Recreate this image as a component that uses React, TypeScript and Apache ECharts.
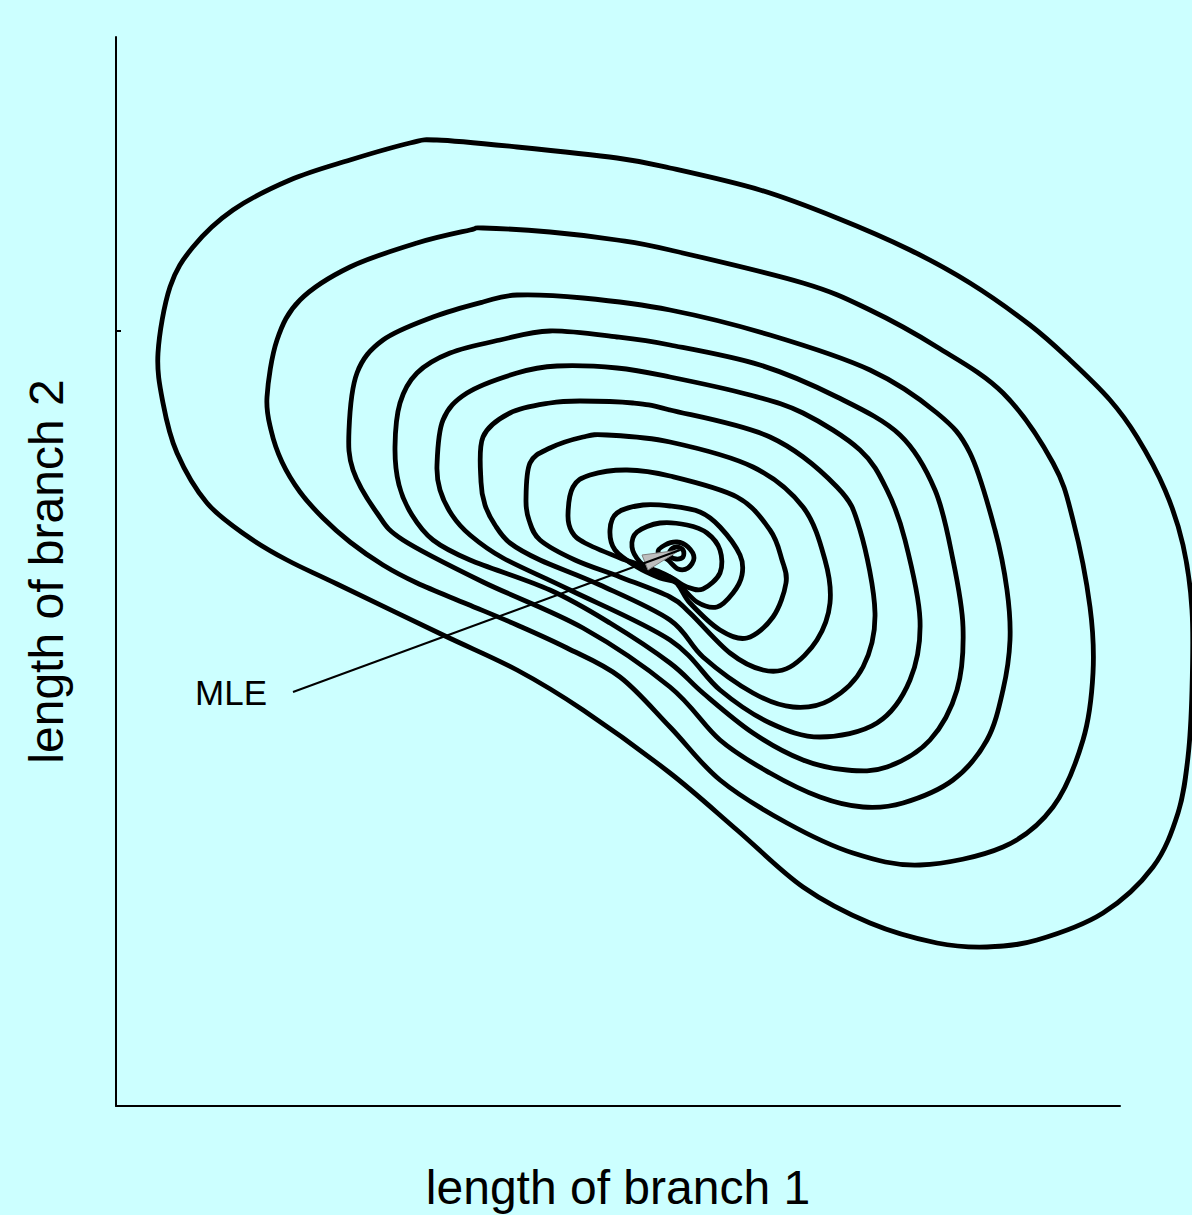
import React, { useEffect, useRef } from "react";
import * as echarts from "echarts";

// Contour levels of the likelihood surface (x = length of branch 1, y = length of branch 2)
const contour1 = [[4.2,75.3],[5.4,81.9],[7.7,85.9],[11.7,89.6],[17.4,92.6],[23.4,94.6],[29.4,96.3],[32.1,96.6],[40.1,95.9],[50.1,94.8],[55.4,93.8],[64.4,91.6],[72.1,88.8],[79.4,85.6],[85.4,82.3],[91.4,78.1],[95.4,74.6],[99.4,70.6],[102.1,66.9],[104.9,61.6],[106.7,56.1],[107.6,49.6],[107.6,41.6],[107.2,34.9],[106.2,29.3],[103.7,23.9],[98.7,19.3],[92.1,16.6],[87.1,15.9],[82.1,16.3],[75.4,18.3],[68.7,21.9],[62.1,27.6],[55.4,33.3],[46.7,39.6],[40.1,43.6],[32.7,47.1],[22.1,52.2],[17.1,54.6],[13.1,57.0],[9.1,60.3],[6.1,65.3],[4.7,70.3]];
const contour2 = [[15.1,70.9],[16.1,76.6],[18.4,80.6],[23.4,83.9],[30.1,86.3],[35.4,87.6],[36.7,87.8],[43.4,87.4],[50.1,86.6],[55.4,85.6],[68.7,82.3],[75.4,79.6],[82.1,75.9],[88.7,71.3],[93.7,64.3],[95.7,58.6],[97.4,49.9],[97.7,43.3],[96.7,36.6],[93.7,29.9],[88.7,25.9],[80.4,24.1],[73.7,25.3],[67.1,28.3],[60.4,32.6],[55.4,37.9],[50.4,42.9],[45.1,45.8],[40.1,48.1],[35.1,50.2],[30.1,52.3],[26.7,54.1],[23.4,56.4],[20.7,58.8],[18.4,61.4],[16.6,64.4],[15.5,67.6]];
const contour3 = [[23.3,67.6],[24.1,73.3],[26.7,76.6],[31.7,78.9],[36.7,80.4],[40.1,81.1],[46.7,80.8],[55.4,79.6],[65.4,77.1],[75.4,73.6],[82.1,69.3],[85.4,65.3],[87.9,57.6],[89.1,51.6],[89.4,46.6],[88.7,41.6],[87.1,36.6],[83.7,32.6],[78.7,30.3],[74.7,29.9],[70.4,30.9],[65.4,33.3],[60.4,36.6],[55.4,41.9],[46.7,47.8],[36.7,52.4],[28.7,56.6],[26.1,59.3],[23.7,63.6]];
const contour4 = [[27.9,65.9],[28.4,70.3],[30.1,73.3],[33.4,75.3],[38.4,76.6],[43.4,77.5],[50.1,76.9],[55.4,76.1],[64.4,74.1],[72.1,70.9],[78.4,67.1],[81.9,61.6],[83.7,54.6],[84.7,47.9],[84.1,41.6],[81.4,36.6],[77.1,33.9],[73.1,33.6],[68.7,34.6],[63.7,37.3],[58.7,41.3],[55.4,44.3],[49.4,48.3],[43.4,51.6],[35.4,54.6],[31.7,56.6],[29.6,59.1],[28.3,62.1]];
const contour5 = [[32.1,64.1],[32.7,68.6],[35.1,71.3],[40.1,73.3],[44.1,74.0],[50.1,73.8],[55.4,72.9],[63.4,71.1],[68.7,69.3],[74.4,65.6],[77.1,61.6],[78.9,56.6],[80.4,48.6],[79.4,42.6],[76.1,38.3],[70.4,36.9],[65.4,38.3],[60.4,41.6],[55.4,46.6],[45.4,51.6],[38.7,54.8],[35.4,57.1],[33.6,59.1],[32.4,61.6]];
const contour6 = [[36.5,62.4],[36.7,66.9],[39.4,69.3],[43.4,70.3],[46.4,70.5],[51.7,70.3],[55.4,69.6],[65.4,66.9],[72.1,61.9],[74.4,57.6],[75.9,49.3],[74.7,43.9],[71.4,40.6],[67.7,39.9],[63.7,41.3],[58.7,44.9],[55.4,48.6],[48.4,52.1],[42.4,54.6],[39.4,56.3],[37.9,58.1],[36.9,60.1]];
const contour7 = [[41.0,60.6],[41.4,64.3],[43.4,65.8],[46.7,66.9],[49.1,67.1],[55.4,66.4],[63.7,63.9],[68.7,59.9],[70.9,54.6],[71.4,50.3],[70.1,46.6],[67.4,43.9],[64.7,43.6],[61.4,45.3],[57.4,49.3],[55.4,50.9],[50.4,52.9],[45.9,54.6],[42.4,56.6],[41.3,58.6]];
const contour8 = [[45.2,59.1],[45.7,61.9],[47.4,63.1],[51.1,63.6],[55.4,63.0],[62.1,60.9],[65.4,57.6],[66.6,54.6],[67.0,52.3],[65.7,48.9],[63.1,46.8],[60.4,47.6],[57.4,50.3],[55.4,52.9],[50.4,54.8],[46.9,56.3],[45.6,57.4]];
const contour9 = [[49.4,57.6],[50.1,59.3],[52.7,60.1],[55.4,60.0],[58.4,59.4],[60.4,57.9],[62.4,55.1],[62.6,53.1],[61.7,51.3],[60.1,49.9],[58.1,50.4],[56.1,52.3],[54.4,52.8],[52.1,53.9],[49.9,55.6]];
const contour10 = [[51.6,55.9],[52.1,57.4],[54.4,58.3],[57.1,58.1],[59.1,57.3],[60.4,55.6],[60.4,53.3],[58.7,51.7],[57.1,51.9],[55.4,52.9],[53.9,53.4],[52.4,54.4]];
const contour11 = [[54.2,55.4],[54.9,56.1],[56.1,56.4],[57.2,55.9],[57.8,54.8],[57.2,53.8],[56.2,53.7],[55.2,54.6]];
const contour12 = [[55.4,55.5],[56.0,55.9],[56.7,55.6],[56.7,54.9],[56.0,54.7],[55.4,55.0]];

const contours = [contour1, contour2, contour3, contour4, contour5, contour6, contour7, contour8, contour9, contour10, contour11, contour12];

// MLE annotation: label anchor and arrow tip (the maximum likelihood estimate)
const mleLabelPoint = [17.7, 41.4];
const mlePoint = [56.4, 55.6];
const arrowHead = [[56.4, 55.6], [52.6, 55.1], [53.2, 53.6]];

const xLabel = "length of branch 1";
const yLabel = "length of branch 2";
const yTickValues = [77.5];

const FONT = "'Liberation Sans', Arial, Helvetica, sans-serif";

// closed Catmull-Rom spline through screen points -> SVG path data
function closedSpline(pts: number[][]): string {
  const n = pts.length;
  const f = (v: number) => v.toFixed(2);
  let d = `M${f(pts[0][0])} ${f(pts[0][1])}`;
  for (let i = 0; i < n; i++) {
    const p0 = pts[(i - 1 + n) % n];
    const p1 = pts[i];
    const p2 = pts[(i + 1) % n];
    const p3 = pts[(i + 2) % n];
    const c1x = p1[0] + (p2[0] - p0[0]) / 6;
    const c1y = p1[1] + (p2[1] - p0[1]) / 6;
    const c2x = p2[0] - (p3[0] - p1[0]) / 6;
    const c2y = p2[1] - (p3[1] - p1[1]) / 6;
    d += ` C${f(c1x)} ${f(c1y)} ${f(c2x)} ${f(c2y)} ${f(p2[0])} ${f(p2[1])}`;
  }
  return d + " Z";
}

export default function App() {
  const ref = useRef<HTMLDivElement>(null);
  useEffect(() => {
    if (!ref.current) return;
    const chart = echarts.init(ref.current, undefined, { renderer: "svg" });
    const contourSeries = contours.map((c, i) => ({
      type: "custom",
      name: "level" + (i + 1),
      coordinateSystem: "cartesian2d",
      clip: false,
      silent: true,
      z: 2,
      data: c,
      encode: { x: 0, y: 1 },
      renderItem: (params: any, api: any) => {
        if (params.dataIndex !== 0) return null;
        const pts = c.map((p) => api.coord(p));
        return {
          type: "path",
          shape: { pathData: closedSpline(pts) },
          style: { fill: "none", stroke: "#000", lineWidth: 4.8, lineJoin: "round" },
        };
      },
    }));
    chart.setOption({
      animation: false,
      backgroundColor: "#CCFFFF",
      textStyle: { fontFamily: FONT },
      grid: {
        left: 116,
        top: 37,
        right: 72,
        bottom: 109,
        containLabel: false,
        outerBoundsMode: "none",
      },
      xAxis: {
        type: "value",
        min: 0,
        max: 100.4,
        axisLine: { show: true, lineStyle: { color: "#000", width: 2 } },
        axisTick: { show: false },
        axisLabel: { show: false },
        splitLine: { show: false },
        name: xLabel,
        nameLocation: "middle",
        nameGap: 57,
        nameTextStyle: { fontSize: 48, color: "#000", fontFamily: FONT },
      },
      yAxis: {
        type: "value",
        min: 0,
        max: 106.9,
        axisLine: { show: true, lineStyle: { color: "#000", width: 2 } },
        axisTick: {
          show: true,
          inside: true,
          length: 5,
          customValues: yTickValues,
          lineStyle: { color: "#000", width: 2 },
        },
        axisLabel: { show: false },
        splitLine: { show: false },
        name: yLabel,
        nameLocation: "middle",
        nameGap: 46,
        nameTextStyle: { fontSize: 48, color: "#000", fontFamily: FONT },
      },
      series: [
        ...contourSeries,
        {
          type: "custom",
          name: "arrowhead",
          coordinateSystem: "cartesian2d",
          clip: false,
          z: 3,
          silent: true,
          data: [arrowHead.flat()],
          renderItem: (params: any, api: any) => {
            const pts = [0, 1, 2].map((k) => api.coord([api.value(2 * k), api.value(2 * k + 1)]));
            return {
              type: "polygon",
              shape: { points: pts },
              style: { fill: "#BEBEBE", stroke: "#7F7F7F", lineWidth: 1 },
            };
          },
        },
        {
          type: "line",
          name: "arrow",
          data: [mleLabelPoint, mlePoint],
          showSymbol: false,
          symbol: "none",
          clip: false,
          z: 4,
          silent: true,
          lineStyle: { color: "#000", width: 2 },
        },
        {
          type: "scatter",
          name: "MLE",
          data: [mleLabelPoint],
          symbolSize: 0,
          z: 5,
          silent: true,
          itemStyle: { opacity: 1 },
          label: {
            show: true,
            position: "left",
            distance: 26,
            formatter: "MLE",
            fontSize: 35,
            color: "#000",
            opacity: 1,
            fontFamily: FONT,
          },
        },
      ],
    });
    return () => chart.dispose();
  }, []);
  return (
    <div
      ref={ref}
      style={{ position: "absolute", left: 0, top: 0, width: 1192, height: 1215 }}
    />
  );
}
